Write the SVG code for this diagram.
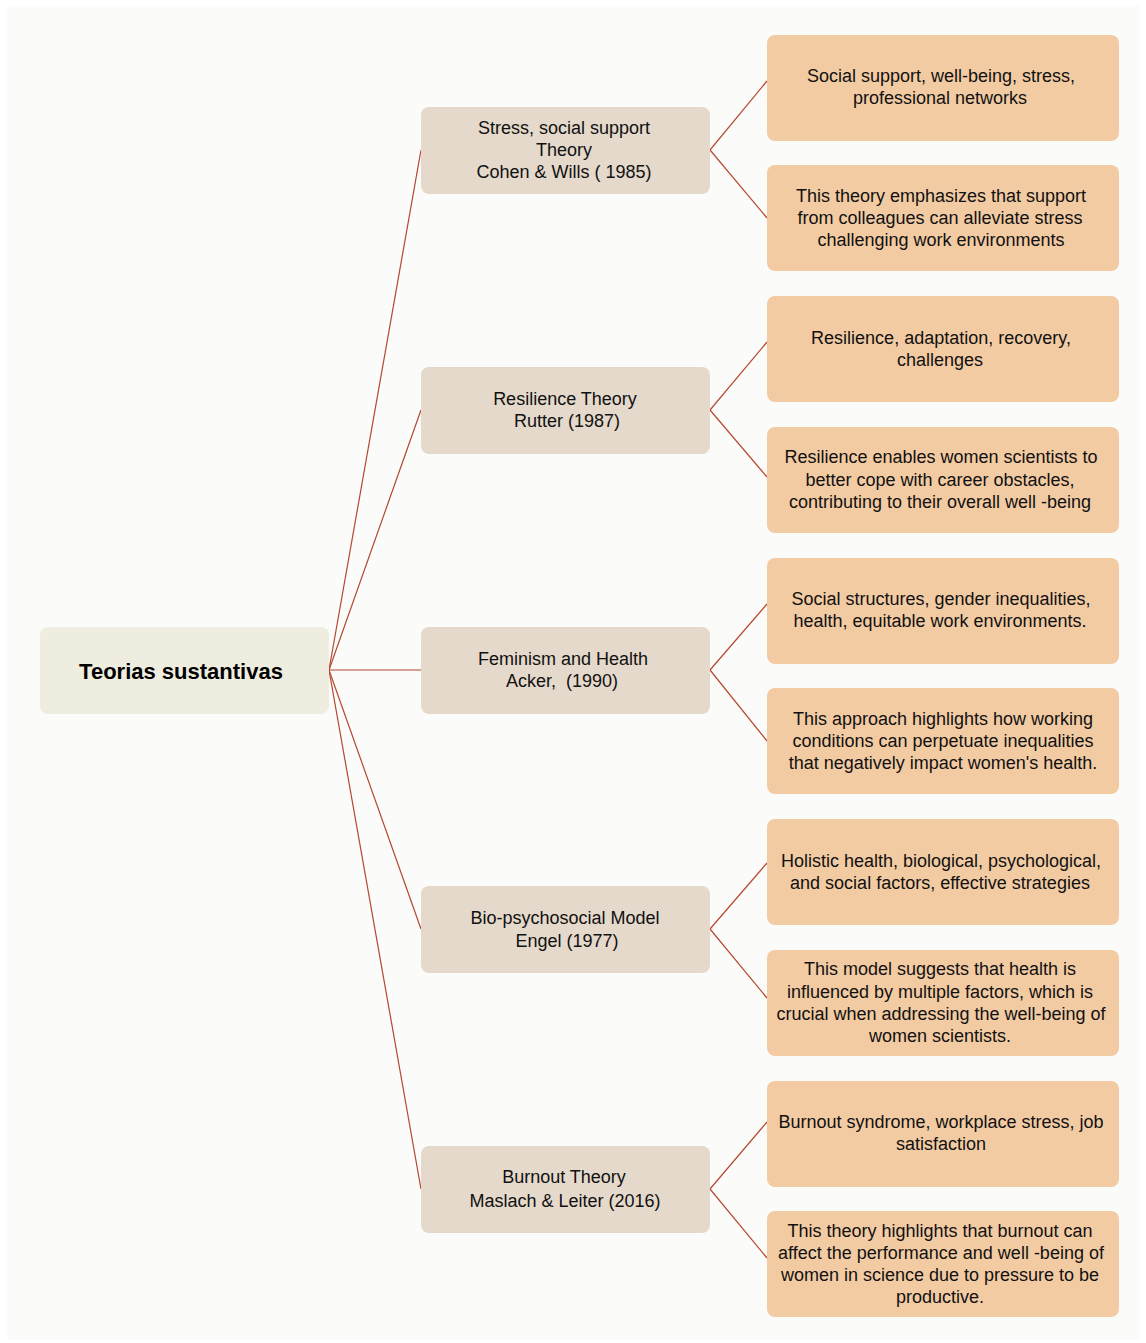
<svg xmlns="http://www.w3.org/2000/svg" width="1146" height="1343" viewBox="0 0 1146 1343">
<style>
.root{fill:#EFEDDF}
.mid{fill:#E5D9CB}
.leaf{fill:#F3CBA3}
.t{font-family:"Liberation Sans",Arial,sans-serif;font-size:18px;fill:#111;text-anchor:middle}
.tb{font-family:"Liberation Sans",Arial,sans-serif;font-size:22px;font-weight:bold;fill:#000;text-anchor:middle}
.c line{stroke:#B5472F;stroke-width:1.2}
</style>
<rect x="0" y="0" width="1146" height="1343" fill="#FFFFFF"/>
<rect x="7" y="6" width="1133" height="1334" fill="#FBFBF9"/>
<g class="c" id="connectors">
<line x1="329" y1="670" x2="421" y2="150"/>
<line x1="329" y1="670" x2="421" y2="410"/>
<line x1="329" y1="670" x2="421" y2="670"/>
<line x1="329" y1="670" x2="421" y2="929"/>
<line x1="329" y1="670" x2="421" y2="1189"/>
<line x1="710" y1="150" x2="767" y2="81"/>
<line x1="710" y1="150" x2="767" y2="218"/>
<line x1="710" y1="410" x2="767" y2="342"/>
<line x1="710" y1="410" x2="767" y2="477"/>
<line x1="710" y1="670" x2="767" y2="604"/>
<line x1="710" y1="670" x2="767" y2="741"/>
<line x1="710" y1="929" x2="767" y2="863"/>
<line x1="710" y1="929" x2="767" y2="998"/>
<line x1="710" y1="1189" x2="767" y2="1122"/>
<line x1="710" y1="1189" x2="767" y2="1258"/>
</g>
<g id="root"><rect class="root" x="40" y="627" width="289" height="87" rx="8"/><text class="tb" x="181" y="679">Teorias sustantivas</text></g>
<g id="m1"><rect class="mid" x="421" y="107" width="289" height="87" rx="8"/><text class="t" x="564" y="134">Stress, social support</text><text class="t" x="564" y="156">Theory</text><text class="t" x="564" y="178">Cohen &amp; Wills ( 1985)</text></g>
<g id="m2"><rect class="mid" x="421" y="367" width="289" height="87" rx="8"/><text class="t" x="565" y="405">Resilience Theory</text><text class="t" x="567" y="427">Rutter (1987)</text></g>
<g id="m3"><rect class="mid" x="421" y="627" width="289" height="87" rx="8"/><text class="t" x="563" y="665">Feminism and Health</text><text class="t" x="562" y="687">Acker, &#160;(1990)</text></g>
<g id="m4"><rect class="mid" x="421" y="886" width="289" height="87" rx="8"/><text class="t" x="565" y="924">Bio-psychosocial Model</text><text class="t" x="567" y="947">Engel (1977)</text></g>
<g id="m5"><rect class="mid" x="421" y="1146" width="289" height="87" rx="8"/><text class="t" x="564" y="1183">Burnout Theory</text><text class="t" x="565" y="1207">Maslach &amp; Leiter (2016)</text></g>
<g id="l1"><rect class="leaf" x="767" y="35" width="352" height="106" rx="8"/><text class="t" x="941" y="82">Social support, well-being, stress,</text><text class="t" x="940" y="104">professional networks</text></g>
<g id="l2"><rect class="leaf" x="767" y="165" width="352" height="106" rx="8"/><text class="t" x="941" y="202">This theory emphasizes that support</text><text class="t" x="940" y="224">from colleagues can alleviate stress</text><text class="t" x="941" y="246">challenging work environments</text></g>
<g id="l3"><rect class="leaf" x="767" y="296" width="352" height="106" rx="8"/><text class="t" x="941" y="344">Resilience, adaptation, recovery,</text><text class="t" x="940" y="366">challenges</text></g>
<g id="l4"><rect class="leaf" x="767" y="427" width="352" height="106" rx="8"/><text class="t" x="941" y="463">Resilience enables women scientists to</text><text class="t" x="940" y="486">better cope with career obstacles,</text><text class="t" x="940" y="508">contributing to their overall well -being</text></g>
<g id="l5"><rect class="leaf" x="767" y="558" width="352" height="106" rx="8"/><text class="t" x="941" y="605">Social structures, gender inequalities,</text><text class="t" x="940" y="627">health, equitable work environments.</text></g>
<g id="l6"><rect class="leaf" x="767" y="688" width="352" height="106" rx="8"/><text class="t" x="943" y="725">This approach highlights how working</text><text class="t" x="943" y="747">conditions can perpetuate inequalities</text><text class="t" x="943" y="769">that negatively impact women's health.</text></g>
<g id="l7"><rect class="leaf" x="767" y="819" width="352" height="106" rx="8"/><text class="t" x="941" y="867">Holistic health, biological, psychological,</text><text class="t" x="940" y="889">and social factors, effective strategies</text></g>
<g id="l8"><rect class="leaf" x="767" y="950" width="352" height="106" rx="8"/><text class="t" x="940" y="975">This model suggests that health is</text><text class="t" x="940" y="998">influenced by multiple factors, which is</text><text class="t" x="941" y="1020">crucial when addressing the well-being of</text><text class="t" x="940" y="1042">women scientists.</text></g>
<g id="l9"><rect class="leaf" x="767" y="1081" width="352" height="106" rx="8"/><text class="t" x="941" y="1128">Burnout syndrome, workplace stress, job</text><text class="t" x="941" y="1150">satisfaction</text></g>
<g id="l10"><rect class="leaf" x="767" y="1211" width="352" height="106" rx="8"/><text class="t" x="940" y="1237">This theory highlights that burnout can</text><text class="t" x="941" y="1259">affect the performance and well -being of</text><text class="t" x="940" y="1281">women in science due to pressure to be</text><text class="t" x="940" y="1303">productive.</text></g>
</svg>
